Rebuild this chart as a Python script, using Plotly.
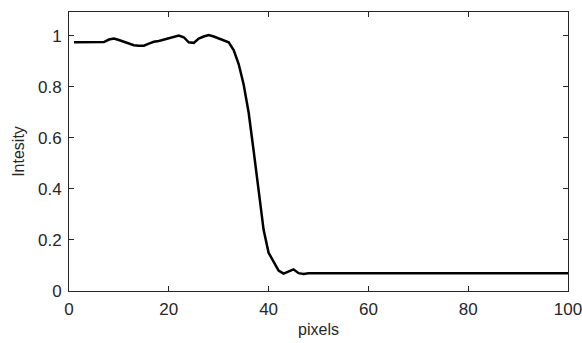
import plotly.graph_objects as go

x_pixels = list(range(1, 101))
intensity_head = [0.975, 0.975, 0.975, 0.975, 0.975, 0.975, 0.976, 0.986, 0.99, 0.984,
                  0.978, 0.97, 0.964, 0.962, 0.962, 0.97, 0.977, 0.98, 0.985, 0.99,
                  0.995, 1.002, 0.995, 0.975, 0.973, 0.99, 0.998, 1.004, 0.998, 0.99,
                  0.985, 0.975, 0.945, 0.89, 0.81, 0.70, 0.55, 0.40, 0.24, 0.15,
                  0.115, 0.08, 0.068, 0.075, 0.085, 0.07, 0.067]
intensity_tail = [0.07] * (100 - len(intensity_head))
intensity = intensity_head + intensity_tail

x_ticks = [0, 20, 40, 60, 80, 100]
y_ticks = [0, 0.2, 0.4, 0.6, 0.8, 1]
y_tick_text = ["0", "0.2", "0.4", "0.6", "0.8", "1"]

fig = go.Figure()
fig.add_trace(go.Scatter(x=x_pixels, y=intensity, mode="lines",
                         line=dict(color="black", width=2.5), showlegend=False))

font = dict(family="Liberation Sans, Arial", size=17, color="#262626")
title_font = dict(family="Liberation Sans, Arial", size=16, color="#262626")
axis_common = dict(showline=True, linecolor="#262626", linewidth=1, mirror="ticks",
                   ticks="inside", ticklen=5, tickcolor="#262626", showgrid=False,
                   zeroline=False, tickfont=font, automargin=False,
                   ticklabeloverflow="allow", ticklabelstandoff=3)

fig.update_layout(
    width=582, height=343,
    margin=dict(l=69, r=14, t=12, b=52),
    paper_bgcolor="white", plot_bgcolor="white",
    xaxis=dict(range=[0, 100], tickvals=x_ticks,
               title=dict(text="pixels", font=title_font, standoff=5),
               **axis_common),
    yaxis=dict(range=[0, 1.094], tickvals=y_ticks, ticktext=y_tick_text,
               title=dict(text="Intesity", font=title_font, standoff=9),
               **axis_common),
)

fig.write_html("out.html")
